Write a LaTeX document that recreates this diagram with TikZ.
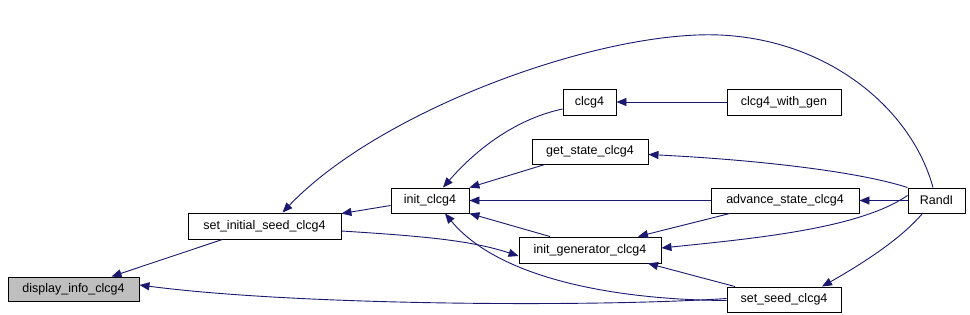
\documentclass[tikz,border=0pt]{standalone}
\usepackage{fontspec}
\setmainfont{Liberation Sans}
\usetikzlibrary{arrows.meta}
\definecolor{edgeblue}{HTML}{191970}
\definecolor{hlgray}{HTML}{BFBFBF}
\tikzset{
  fn/.style={draw=black, line width=0.9pt, fill=white, rectangle, inner sep=0pt,
    font=\fontsize{12.5}{14}\selectfont},
  cur/.style={fn, fill=hlgray},
  call/.style={draw=edgeblue, line width=0.9pt,
    -{Triangle[length=10pt,width=8pt]}, color=edgeblue}
}
\begin{document}
\begin{tikzpicture}[x=1pt,y=-1pt]
\useasboundingbox (0,0) rectangle (970,315);
\fill[white] (0,0) rectangle (970,315);
% nodes
\node[cur, minimum width=131pt, minimum height=24pt] (disp) at (73.5,289) {display\_info\_clcg4};
\node[fn, minimum width=153pt, minimum height=26pt] (sis) at (264.5,226) {set\_initial\_seed\_clcg4};
\node[fn, minimum width=78pt, minimum height=25pt] (init) at (430,200.5) {init\_clcg4};
\node[fn, minimum width=53pt, minimum height=26pt] (clcg) at (589.5,102) {clcg4};
\node[fn, minimum width=116pt, minimum height=25pt] (gs) at (590,151.5) {get\_state\_clcg4};
\node[fn, minimum width=142pt, minimum height=26pt] (ig) at (590,250) {init\_generator\_clcg4};
\node[fn, minimum width=114pt, minimum height=26pt] (cwg) at (784,102) {clcg4\_with\_gen};
\node[fn, minimum width=148pt, minimum height=25pt] (adv) at (785,200.5) {advance\_state\_clcg4};
\node[fn, minimum width=57pt, minimum height=25pt] (rand) at (936.5,200.5) {RandI};
\node[fn, minimum width=114pt, minimum height=25pt] (ss) at (784,299.5) {set\_seed\_clcg4};
% edges
\draw[call] ([xshift=-42pt]sis.south) -- ([xshift=38pt]disp.north);
\draw[call] ([yshift=1pt]ss.west) .. controls (600,307) and (300,306) .. ([yshift=4pt]disp.east);
\draw[call] ([yshift=-5pt]init.west) -- ([yshift=-1pt]sis.north east);
\draw[call] ([yshift=-5pt]sis.east) .. controls (420,236) and (470,240) .. ([yshift=-6pt]ig.west);
\draw[call] ([xshift=-3.5pt]rand.north) .. controls (912,110) and (830,40) .. (720,35)
   .. controls (600,30) and (380,110) .. ([xshift=18pt]sis.north);
\draw[call] ([yshift=-7pt]clcg.west) .. controls (520,118) and (480,145) .. ([xshift=13pt]init.north);
\draw[call] ([xshift=-45pt]gs.south) -- (init.north east);
\draw[call] (adv.west) -- (init.east);
\draw[call] ([xshift=-40pt]ig.north) -- (init.south east);
\draw[call] ([yshift=-1pt]ss.west) .. controls (620,300) and (500,280) .. ([xshift=15pt]init.south);
\draw[call] (cwg.west) -- (clcg.east);
\draw[call] (rand.north west) .. controls (860,172) and (760,160) .. ([yshift=-3pt]gs.east);
\draw[call] (rand.west) -- (adv.east);
\draw[call] ([xshift=-55pt]adv.south) -- ([xshift=48pt]ig.north);
\draw[call] ([yshift=5pt]rand.west) .. controls (860,228) and (760,238) .. ([yshift=2pt]ig.east);
\draw[call] ([xshift=-49pt]ss.north) -- ([xshift=58pt]ig.south);
\draw[call] ([xshift=-14pt]rand.south) .. controls (900,240) and (860,265) .. ([xshift=38pt]ss.north);
\end{tikzpicture}
\end{document}
